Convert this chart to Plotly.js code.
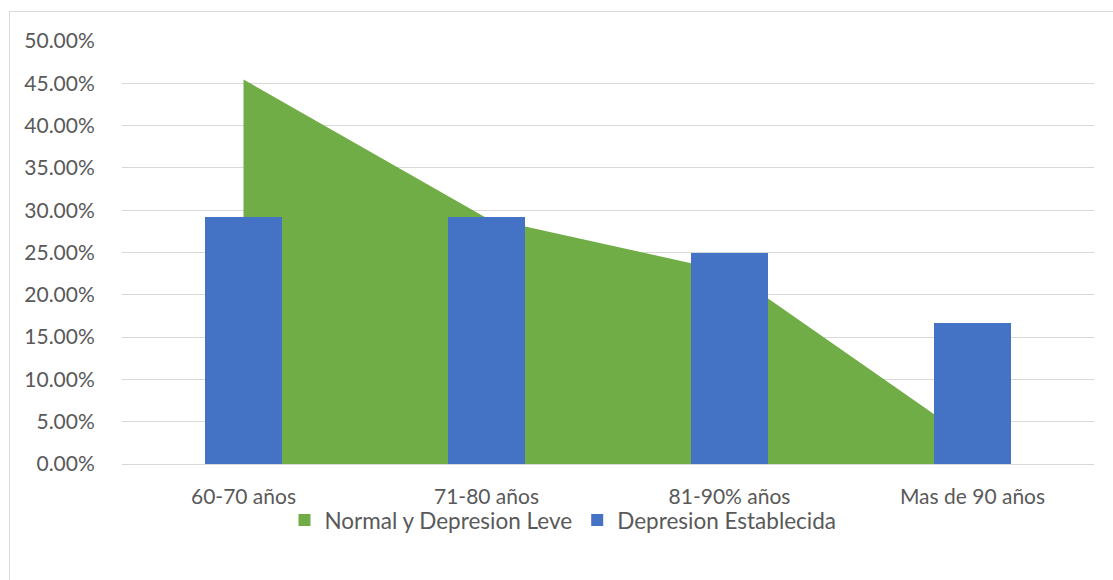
<!DOCTYPE html>
<html>
<head>
<meta charset="utf-8">
<script src="https://cdn.plot.ly/plotly-3.0.1.min.js"></script>
<style>
html,body{margin:0;padding:0;background:#fff;}
#chart{width:1113px;height:580px;position:relative;}
#frame{position:absolute;left:9px;top:11px;width:1110px;height:580px;border:1px solid #d9d9d9;pointer-events:none;box-sizing:border-box;}
</style>
</head>
<body>
<div id="chart"></div>
<div id="frame"></div>
<script>
const categories = ["60-70 años", "71-80 años", "81-90% años", "Mas de 90 años"];
const normalLeve = [0.4545, 0.2909, 0.2273, 0.0273];
const establecida = [0.2917, 0.2917, 0.25, 0.1667];
const yTicks = [0,0.05,0.10,0.15,0.20,0.25,0.30,0.35,0.40,0.45,0.50];
const seriesNames = ["Normal y Depresion Leve", "Depresion Establecida"];

const font = {family: "Lato, 'Open Sans', sans-serif", size: 21, color: "#595959"};

const traces = [
  {
    type: "scatter", x: categories, y: normalLeve, name: seriesNames[0],
    mode: "none", fill: "tozeroy", fillcolor: "#70ad47",
    xaxis: "x", yaxis: "y", hoverinfo: "skip", showlegend: false
  },
  {
    // legend entry only (square swatch) for the area series
    type: "bar", x: categories, y: categories.map(() => null), name: seriesNames[0],
    marker: {color: "#70ad47"}, xaxis: "x", yaxis: "y", showlegend: true
  },
  {
    type: "bar", x: categories, y: establecida, name: seriesNames[1],
    marker: {color: "#4472c4"}, width: 0.313,
    xaxis: "x2", yaxis: "y2"
  }
];

const yax = {
  range: [0, 0.5], tickvals: yTicks, tickformat: ".2%",
  showgrid: true, gridcolor: "#d9d9d9", gridwidth: 1,
  zeroline: false, showline: false,
  ticks: "outside", ticklen: 22, tickcolor: "rgba(0,0,0,0)",
  tickfont: font, fixedrange: true
};
const xax = {
  type: "category", categoryarray: categories, range: [-0.5, 3.5],
  showgrid: false, zeroline: false, showline: true, linecolor: "#d9d9d9", linewidth: 1,
  ticks: "outside", ticklen: 14, tickcolor: "rgba(0,0,0,0)",
  tickfont: font, fixedrange: true
};

const layout = {
  width: 1113, height: 580,
  margin: {l: 121.5, r: 19, t: 41, b: 115.5},
  paper_bgcolor: "#ffffff", plot_bgcolor: "rgba(0,0,0,0)",
  font: font,
  showlegend: true,
  barmode: "overlay",
  legend: {
    orientation: "h", x: 0.4537, xanchor: "center", y: -0.133, yanchor: "middle",
    bgcolor: "rgba(0,0,0,0)",
    font: Object.assign({}, font, {size: 22.5}), traceorder: "normal", itemsizing: "constant"
  },
  xaxis: xax,
  yaxis: yax,
  xaxis2: Object.assign({}, xax, {overlaying: "x", showticklabels: false, showline: false}),
  yaxis2: Object.assign({}, yax, {overlaying: "y", showticklabels: false, showgrid: false}),
  bargap: 0
};

Plotly.newPlot("chart", traces, layout, {displayModeBar: false, staticPlot: true});
</script>
</body>
</html>
